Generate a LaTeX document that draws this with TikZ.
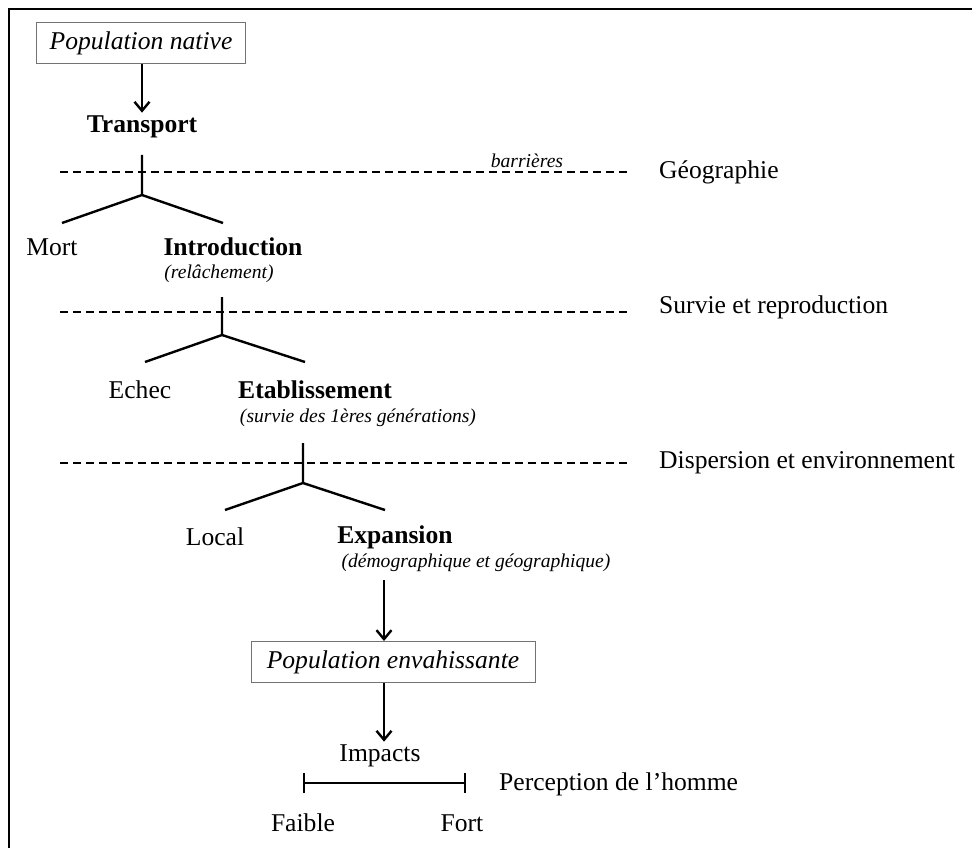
\documentclass[tikz,border=0pt]{standalone}
\usepackage{fontspec}
\setmainfont{Liberation Serif}
\usetikzlibrary{arrows.meta,positioning}

\begin{document}
\begin{tikzpicture}[
    x=1pt,y=-1pt,
    font=\fontsize{25.6}{30}\selectfont,
    popbox/.style={draw=black!55,line width=1pt,inner xsep=11pt,minimum height=41pt,font=\fontsize{25.6}{30}\selectfont\itshape},
    stage/.style={inner sep=3pt,font=\fontsize{25.6}{30}\selectfont\bfseries},
    fate/.style={inner sep=3pt},
    note/.style={inner sep=2pt,font=\fontsize{19.6}{23}\selectfont\itshape},
    filter/.style={anchor=west,inner sep=0pt},
    barrier/.style={dash pattern=on 8pt off 5pt,line width=1.6pt},
    branch/.style={line width=2.4pt},
    arr/.style={-{Straight Barb[length=9pt,width=15pt]},line width=2.4pt}
  ]
    \useasboundingbox (0,0) rectangle (972,848);
    % frame (cut off at right and bottom)
    \draw[line width=2pt] (9,860) -- (9,9) -- (985,9);

    \node[popbox,minimum width=209pt] (native) at (141,43.5) {Population native};
    \node[stage] (transport) at (142,127) {Transport};
    \draw[arr] (native.south -| transport) -- (transport.north);

    % first filter
    \coordinate (t1) at (142,155);
    \coordinate (j1) at (142,195);
    \coordinate (l1) at (62,223);
    \coordinate (r1) at (223,223);
    \coordinate (b1w) at (60,172);
    \coordinate (b1e) at (630,172);
    \draw[barrier] (b1w) -- (b1e);
    \draw[branch] (t1) -- (j1) -- (l1) (j1) -- (r1);
    \node[note] (barr) at (527,161) {barrières};
    \node[filter] (geo) at (659,172) {Géographie};
    \node[fate] (mort) at (52,247) {Mort};
    \node[stage] (intro) at (233,247) {Introduction};
    \node[note] (relach) at (219,274) {(relâchement)};

    % second filter
    \coordinate (t2) at (222,297);
    \coordinate (j2) at (222,335);
    \coordinate (l2) at (145,362);
    \coordinate (r2) at (305,362);
    \coordinate (b2w) at (60,312);
    \coordinate (b2e) at (630,312);
    \draw[barrier] (b2w) -- (b2e);
    \draw[branch] (t2) -- (j2) -- (l2) (j2) -- (r2);
    \node[filter] (surv) at (659,307) {Survie et reproduction};
    \node[fate] (echec) at (140,390) {Echec};
    \node[stage] (etab) at (315,390) {Etablissement};
    \node[note] (gen) at (358,418) {(survie des 1ères générations)};

    % third filter
    \coordinate (t3) at (303,443);
    \coordinate (j3) at (303,483);
    \coordinate (l3) at (225,510);
    \coordinate (r3) at (385,510);
    \coordinate (b3w) at (60,463);
    \coordinate (b3e) at (630,463);
    \draw[barrier] (b3w) -- (b3e);
    \draw[branch] (t3) -- (j3) -- (l3) (j3) -- (r3);
    \node[filter] (disp) at (659,463) {Dispersion et environnement};
    \node[fate] (local) at (215,537) {Local};
    \node[stage] (expan) at (395,537) {Expansion};
    \node[note] (demo) at (476,563) {(démographique et géographique)};

    \node[popbox,minimum width=284pt] (envah) at (393,662) {Population envahissante};
    \coordinate (a3) at (384,580);
    \draw[arr] (a3) -- (a3 |- envah.north);

    \node[fate] (impacts) at (380,756) {Impacts};
    \draw[arr] (envah.south -| a3) -- (a3 |- impacts.north);

    % perception scale
    \coordinate (weak) at (303,783);
    \coordinate (strong) at (466,783);
    \draw[branch,{Bar[width=20pt]}-{Bar[width=20pt]}] (weak) -- (strong);
    \node[filter] (percep) at (499,784) {Perception de l'homme};
    \node[fate] (faible) at (303,823) {Faible};
    \node[fate] (fort) at (462,823) {Fort};
  \end{tikzpicture}
\end{document}
